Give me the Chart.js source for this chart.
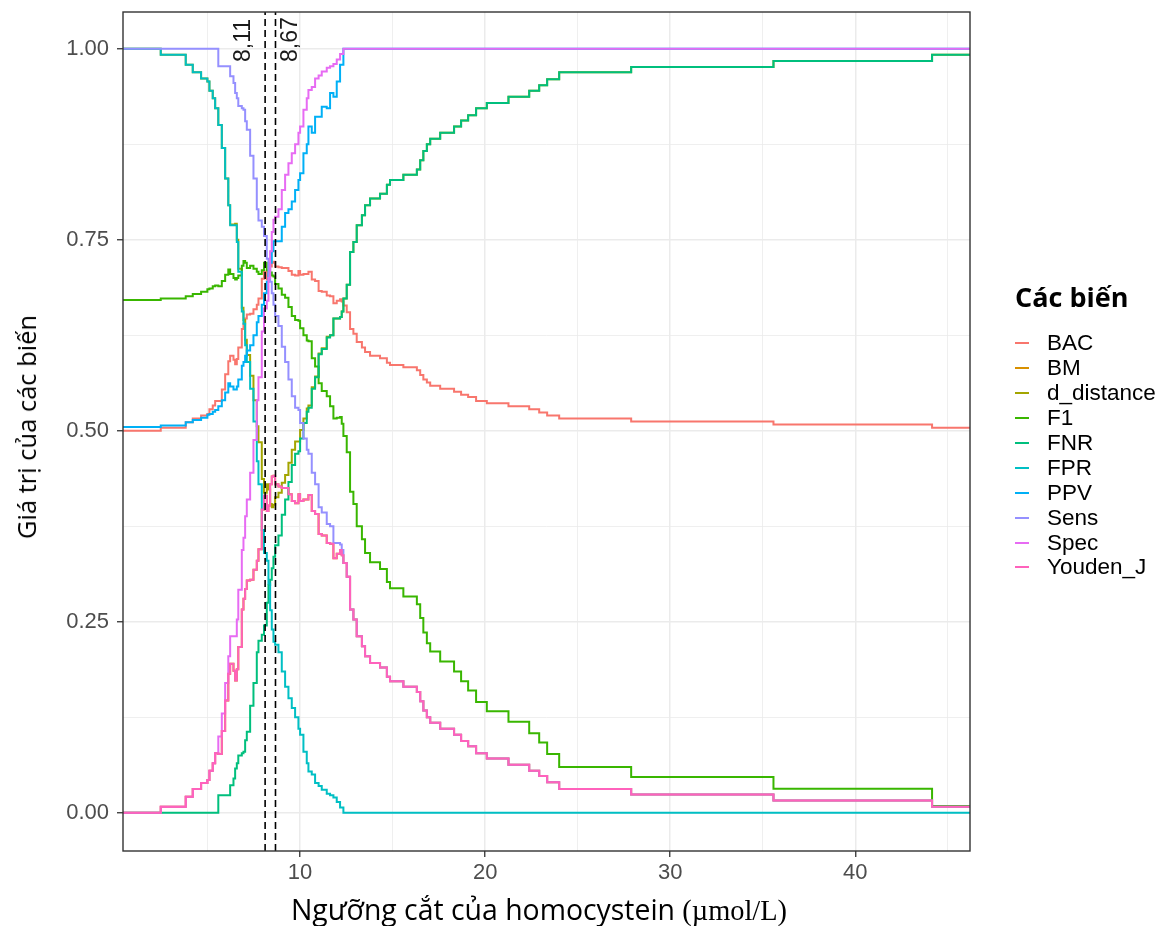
<!DOCTYPE html>
<html>
<head>
<meta charset="utf-8">
<title>Ngưỡng cắt của homocystein</title>
<script src="https://cdn.jsdelivr.net/npm/chart.js@4.4.0/dist/chart.umd.min.js"></script>
<style>
    body { margin: 0; background: #fff; }
    #wrap { position: relative; width: 1170px; height: 926px; }
    #ytitle {
        position: absolute; left: 26px; top: 427px;
        transform: translate(-50%, -50%) rotate(-90deg);
        white-space: nowrap; font-family: "Open Sans", sans-serif; font-size: 25.5px; color: #000;
    }
    #xtitle {
        position: absolute; left: 539px; top: 909px;
        transform: translate(-50%, -50%);
        white-space: nowrap; font-family: "Open Sans", sans-serif; font-size: 28.4px; color: #000;
    }
    #xtitle .unit { font-family: "Liberation Serif", "Times New Roman", serif; }
    #legend-title {
        position: absolute; left: 1015px; top: 279px; line-height: 36px;
        font-family: "Open Sans", sans-serif; font-weight: bold; font-size: 27px; color: #000;
    }
    #legend { position: absolute; left: 1015px; top: 331px; }
    .item {
        display: flex; align-items: center; height: 24.9px;
        font-family: "Liberation Sans", Arial, sans-serif; font-size: 22.5px; color: #000;
    }
    .item .key { width: 14px; height: 2px; margin-right: 18px; }
</style>
</head>
<body>
<div id="wrap">
    <canvas id="chart" width="1170" height="926"></canvas>
    <div id="ytitle">Giá trị của các biến</div>
    <div id="xtitle">Ngưỡng cắt của homocystein <span class="unit">(µmol/L)</span></div>
    <div id="legend-title">Các biến</div>
    <div id="legend"></div>
</div>
<script>
// thresholds (homocystein, µmol/L)
const thresholds = [0.43, 2.47, 3.82, 4.20, 4.65, 4.99, 5.10, 5.28, 5.41,
    5.58, 5.77, 5.95, 6.12,
    6.22, 6.40, 6.49, 6.58, 6.66, 6.85, 6.94, 7.03, 7.12, 7.30,
    7.48, 7.66, 7.75, 7.93, 8.05, 8.20, 8.29, 8.38, 8.47, 8.56,
    8.65, 8.83, 9.01, 9.19, 9.37, 9.55, 9.73, 9.91, 10.00, 10.18,
    10.36, 10.45, 10.63, 10.81, 11.00, 11.17, 11.44, 11.62, 11.80, 11.98,
    12.16, 12.25,
    12.34, 12.52, 12.70, 12.88, 13.06, 13.34, 13.51, 13.78, 14.32, 14.69,
    14.86, 15.58, 16.31, 16.49, 16.66, 16.85, 17.03, 17.57, 18.32, 18.70,
    19.08, 19.51, 20.09, 21.26, 22.38, 22.92, 23.35, 24.00, 27.89, 35.58,
    44.15, 46.20];

const bac = [0.5, 0.504, 0.511, 0.516, 0.52, 0.522, 0.528, 0.533, 0.539,
    0.539, 0.554, 0.574, 0.591,
    0.598, 0.593, 0.587, 0.594, 0.609, 0.633, 0.64, 0.647, 0.652, 0.653,
    0.659, 0.665, 0.673, 0.699, 0.708, 0.698, 0.701, 0.715, 0.72, 0.721,
    0.715, 0.714, 0.713, 0.713, 0.709, 0.704, 0.703, 0.709, 0.704, 0.705,
    0.705, 0.708, 0.698, 0.696, 0.683, 0.682, 0.677, 0.676, 0.667, 0.67,
    0.672, 0.669,
    0.664, 0.655, 0.633, 0.627, 0.616, 0.609, 0.603, 0.598, 0.595, 0.589,
    0.586, 0.583, 0.579, 0.573, 0.567, 0.563, 0.559, 0.555, 0.551, 0.547,
    0.544, 0.539, 0.536, 0.532, 0.528, 0.524, 0.52, 0.516, 0.512, 0.508,
    0.504, 0.504];

const bm = [0, 0.008, 0.021, 0.031, 0.039, 0.043, 0.055, 0.065, 0.078,
    0.077, 0.107, 0.147, 0.182,
    0.195, 0.186, 0.173, 0.188, 0.217, 0.266, 0.28, 0.293, 0.304, 0.305,
    0.318, 0.33, 0.345, 0.397, 0.415, 0.395, 0.402, 0.43, 0.44, 0.441,
    0.43, 0.427, 0.425, 0.425, 0.417, 0.408, 0.405, 0.417, 0.408, 0.41,
    0.41, 0.416, 0.395, 0.391, 0.365, 0.363, 0.353, 0.352, 0.333, 0.339,
    0.344, 0.337,
    0.327, 0.309, 0.266, 0.253, 0.231, 0.218, 0.205, 0.196, 0.19, 0.178,
    0.172, 0.165, 0.158, 0.146, 0.134, 0.125, 0.118, 0.11, 0.102, 0.094,
    0.087, 0.078, 0.071, 0.063, 0.055, 0.048, 0.04, 0.031, 0.024, 0.016,
    0.008, 0.008];

const dDistance = [1, 0.992, 0.979, 0.969, 0.961, 0.957, 0.945, 0.935, 0.922,
    0.9, 0.87, 0.83, 0.795,
    0.77, 0.77, 0.771, 0.75, 0.712, 0.661, 0.645, 0.619, 0.599, 0.572,
    0.54, 0.506, 0.485, 0.437, 0.419, 0.43, 0.423, 0.404, 0.4, 0.403,
    0.413, 0.419, 0.432, 0.442, 0.458, 0.475, 0.486, 0.486, 0.501, 0.516,
    0.529, 0.533, 0.557, 0.571, 0.601, 0.608, 0.623, 0.625, 0.647, 0.647,
    0.649, 0.656,
    0.673, 0.691, 0.734, 0.747, 0.769, 0.782, 0.795, 0.804, 0.81, 0.822,
    0.828, 0.835, 0.842, 0.854, 0.866, 0.875, 0.882, 0.89, 0.898, 0.906,
    0.913, 0.922, 0.929, 0.937, 0.945, 0.952, 0.96, 0.969, 0.976, 0.984,
    0.992, 0.992];

const f1 = [0.671, 0.673, 0.676, 0.679, 0.682, 0.685, 0.686, 0.689, 0.69,
    0.689, 0.696, 0.704, 0.711,
    0.705, 0.70, 0.698, 0.70, 0.703, 0.716, 0.722, 0.72, 0.713, 0.716,
    0.712, 0.708, 0.705, 0.71, 0.72, 0.71, 0.703, 0.707, 0.703, 0.702,
    0.692, 0.686, 0.678, 0.674, 0.662, 0.65, 0.645, 0.644, 0.634, 0.625,
    0.618, 0.617, 0.595, 0.584, 0.562, 0.552, 0.545, 0.532, 0.516, 0.517,
    0.518, 0.509,
    0.493, 0.472, 0.42, 0.404, 0.375, 0.358, 0.34, 0.328, 0.319, 0.302,
    0.294, 0.283, 0.273, 0.255, 0.236, 0.222, 0.211, 0.198, 0.185, 0.172,
    0.16, 0.145, 0.133, 0.119, 0.104, 0.092, 0.077, 0.06, 0.047, 0.0315,
    0.009, 0.009];

const fnr = [0, 0, 0, 0, 0, 0, 0, 0, 0,
    0.023, 0.023, 0.023, 0.023,
    0.036, 0.045, 0.058, 0.065, 0.075, 0.078, 0.08, 0.095, 0.106, 0.14,
    0.17, 0.21, 0.225, 0.233, 0.245, 0.275, 0.298, 0.305, 0.32, 0.335,
    0.35, 0.363, 0.39, 0.41, 0.433, 0.455, 0.47, 0.473, 0.49, 0.51,
    0.525, 0.53, 0.555, 0.57, 0.6, 0.607, 0.622, 0.625, 0.647, 0.647,
    0.649, 0.656,
    0.673, 0.691, 0.734, 0.747, 0.769, 0.782, 0.795, 0.804, 0.81, 0.822,
    0.828, 0.835, 0.842, 0.854, 0.866, 0.875, 0.882, 0.89, 0.898, 0.906,
    0.913, 0.922, 0.929, 0.937, 0.945, 0.952, 0.96, 0.969, 0.976, 0.984,
    0.992, 0.992];

const fpr = [1, 0.992, 0.979, 0.969, 0.961, 0.957, 0.945, 0.935, 0.922,
    0.9, 0.87, 0.83, 0.795,
    0.769, 0.769, 0.769, 0.747, 0.708, 0.656, 0.64, 0.612, 0.59, 0.555,
    0.512, 0.46, 0.43, 0.37, 0.34, 0.33, 0.3, 0.265, 0.24, 0.224,
    0.22, 0.21, 0.185, 0.165, 0.15, 0.137, 0.125, 0.11, 0.102, 0.08,
    0.065, 0.054, 0.05, 0.039, 0.035, 0.03, 0.025, 0.023, 0.02, 0.014,
    0.007, 0.007,
    0, 0, 0, 0, 0, 0, 0, 0, 0, 0,
    0, 0, 0, 0, 0, 0, 0, 0, 0, 0,
    0, 0, 0, 0, 0, 0, 0, 0, 0, 0,
    0, 0];

const ppv = [0.505, 0.507, 0.511, 0.514, 0.517, 0.521, 0.522, 0.525, 0.527,
    0.532, 0.54, 0.55, 0.562,
    0.558, 0.554, 0.554, 0.558, 0.567, 0.585, 0.59, 0.598, 0.605, 0.612,
    0.625, 0.642, 0.65, 0.665, 0.68, 0.695, 0.705, 0.72, 0.735, 0.748,
    0.748, 0.748, 0.767, 0.785, 0.79, 0.8, 0.815, 0.828, 0.837, 0.863,
    0.875, 0.898, 0.89, 0.911, 0.911, 0.924, 0.922, 0.942, 0.937, 0.957,
    0.979, 0.979,
    1, 1, 1, 1, 1, 1, 1, 1, 1, 1,
    1, 1, 1, 1, 1, 1, 1, 1, 1, 1,
    1, 1, 1, 1, 1, 1, 1, 1, 1, 1,
    1, 1];

const sens = [1, 1, 1, 1, 1, 1, 1, 1, 1,
    0.977, 0.977, 0.977, 0.977,
    0.964, 0.955, 0.942, 0.935, 0.925, 0.922, 0.92, 0.905, 0.894, 0.86,
    0.83, 0.79, 0.775, 0.767, 0.755, 0.725, 0.702, 0.695, 0.68, 0.665,
    0.65, 0.637, 0.61, 0.59, 0.567, 0.545, 0.53, 0.527, 0.51, 0.49,
    0.475, 0.47, 0.445, 0.43, 0.40, 0.393, 0.378, 0.375, 0.353, 0.353,
    0.351, 0.344,
    0.327, 0.309, 0.266, 0.253, 0.231, 0.218, 0.205, 0.196, 0.19, 0.178,
    0.172, 0.165, 0.158, 0.146, 0.134, 0.125, 0.118, 0.11, 0.102, 0.094,
    0.087, 0.078, 0.071, 0.063, 0.055, 0.048, 0.04, 0.031, 0.024, 0.016,
    0.008, 0.008];

const spec = [0, 0.008, 0.021, 0.031, 0.039, 0.043, 0.055, 0.065, 0.078,
    0.10, 0.13, 0.17, 0.205,
    0.231, 0.231, 0.231, 0.253, 0.292, 0.344, 0.36, 0.388, 0.41, 0.445,
    0.488, 0.54, 0.57, 0.63, 0.66, 0.67, 0.70, 0.735, 0.76, 0.776,
    0.78, 0.79, 0.815, 0.835, 0.85, 0.863, 0.875, 0.89, 0.898, 0.92,
    0.935, 0.946, 0.95, 0.961, 0.965, 0.97, 0.975, 0.977, 0.98, 0.986,
    0.993, 0.993,
    1, 1, 1, 1, 1, 1, 1, 1, 1, 1,
    1, 1, 1, 1, 1, 1, 1, 1, 1, 1,
    1, 1, 1, 1, 1, 1, 1, 1, 1, 1,
    1, 1];

const youdenJ = [0, 0.008, 0.021, 0.031, 0.039, 0.043, 0.055, 0.065, 0.078,
    0.077, 0.107, 0.147, 0.182,
    0.195, 0.186, 0.173, 0.188, 0.217, 0.266, 0.28, 0.293, 0.304, 0.305,
    0.318, 0.33, 0.345, 0.397, 0.415, 0.395, 0.402, 0.43, 0.44, 0.441,
    0.43, 0.427, 0.425, 0.425, 0.417, 0.408, 0.405, 0.417, 0.408, 0.41,
    0.41, 0.416, 0.395, 0.391, 0.365, 0.363, 0.353, 0.352, 0.333, 0.339,
    0.344, 0.337,
    0.327, 0.309, 0.266, 0.253, 0.231, 0.218, 0.205, 0.196, 0.19, 0.178,
    0.172, 0.165, 0.158, 0.146, 0.134, 0.125, 0.118, 0.11, 0.102, 0.094,
    0.087, 0.078, 0.071, 0.063, 0.055, 0.048, 0.04, 0.031, 0.024, 0.016,
    0.008, 0.008];

const seriesNames = ['BAC', 'BM', 'd_distance', 'F1', 'FNR', 'FPR', 'PPV', 'Sens', 'Spec', 'Youden_J'];
const seriesValues = [bac, bm, dDistance, f1, fnr, fpr, ppv, sens, spec, youdenJ];
const seriesColors = ['#F8766D', '#D89000', '#A3A500', '#39B600', '#00BF7D',
                      '#00BFC4', '#00B0F6', '#9590FF', '#E76BF3', '#FF62BC'];

// optimal cut-offs (dashed lines)
const cutValues = [8.11, 8.67];
const cutLabels = ['8,11', '8,67'];

const xTicks = [5, 10, 15, 20, 25, 30, 35, 40, 45];
const yTicks = [0, 0.125, 0.25, 0.375, 0.5, 0.625, 0.75, 0.875, 1];

const isMajorX = v => v % 10 === 0;
const isMajorY = v => Math.abs(v * 4 - Math.round(v * 4)) < 1e-9;

const datasets = seriesNames.map((name, i) => ({
    label: name,
    data: thresholds.map((t, j) => ({ x: t, y: seriesValues[i][j] })),
    borderColor: seriesColors[i],
    borderWidth: 2,
    stepped: true,
    pointRadius: 0,
    fill: false,
    order: seriesNames.length - i
}));

cutValues.forEach(v => {
    datasets.push({
        label: 'cut ' + v,
        data: [{ x: v, y: -0.05 }, { x: v, y: 1.05 }],
        borderColor: '#000',
        borderWidth: 1.6,
        borderDash: [7, 4],
        pointRadius: 0,
        fill: false,
        order: -1
    });
});

// panel border + rotated cut-off labels
const panelPlugin = {
    id: 'panel',
    afterDatasetsDraw(chart) {
        const ctx = chart.ctx;
        const area = chart.chartArea;
        const x = chart.scales.x;
        const shift = [-21, 15];
        ctx.save();
        ctx.font = '23px "Liberation Sans", Arial, sans-serif';
        ctx.fillStyle = '#1a1a1a';
        ctx.textAlign = 'left';
        ctx.textBaseline = 'middle';
        cutValues.forEach((v, i) => {
            ctx.save();
            ctx.translate(x.getPixelForValue(v) + shift[i], area.top + 50);
            ctx.rotate(-Math.PI / 2);
            ctx.fillText(cutLabels[i], 0, 0);
            ctx.restore();
        });
        ctx.restore();
    },
    afterDraw(chart) {
        const ctx = chart.ctx;
        const a = chart.chartArea;
        ctx.save();
        ctx.strokeStyle = '#333333';
        ctx.lineWidth = 1.4;
        ctx.strokeRect(a.left, a.top, a.right - a.left, a.bottom - a.top);
        ctx.restore();
    }
};

new Chart(document.getElementById('chart'), {
    type: 'line',
    data: { datasets: datasets },
    options: {
        responsive: false,
        animation: false,
        devicePixelRatio: 1,
        events: [],
        layout: { padding: { left: 0, right: 200, top: 12, bottom: 0 } },
        plugins: { legend: { display: false }, tooltip: { enabled: false } },
        scales: {
            x: {
                type: 'linear',
                min: 0.43,
                max: 46.2,
                afterFit: s => { s.height = 75; s.paddingLeft = 0; s.paddingRight = 0; },
                afterBuildTicks: s => { s.ticks = xTicks.map(v => ({ value: v })); },
                border: { display: false },
                grid: {
                    color: '#ebebeb',
                    lineWidth: c => isMajorX(c.tick.value) ? 1.5 : 0.8,
                    tickLength: 6,
                    tickWidth: 1.3,
                    tickColor: c => isMajorX(c.tick.value) ? '#333333' : 'rgba(0,0,0,0)'
                },
                ticks: {
                    autoSkip: false,
                    maxRotation: 0,
                    padding: 3,
                    color: '#4d4d4d',
                    font: { family: '"Liberation Sans", Arial, sans-serif', size: 22 },
                    callback: v => isMajorX(v) ? String(v) : ''
                }
            },
            y: {
                type: 'linear',
                min: -0.05,
                max: 1.048,
                afterFit: s => { s.width = 123; s.paddingTop = 0; s.paddingBottom = 0; },
                afterBuildTicks: s => { s.ticks = yTicks.map(v => ({ value: v })); },
                border: { display: false },
                grid: {
                    color: '#ebebeb',
                    lineWidth: c => isMajorY(c.tick.value) ? 1.5 : 0.8,
                    tickLength: 6,
                    tickWidth: 1.3,
                    tickColor: c => isMajorY(c.tick.value) ? '#333333' : 'rgba(0,0,0,0)'
                },
                ticks: {
                    autoSkip: false,
                    padding: 8,
                    color: '#4d4d4d',
                    font: { family: '"Liberation Sans", Arial, sans-serif', size: 22 },
                    callback: v => isMajorY(v) ? v.toFixed(2) : ''
                }
            }
        }
    },
    plugins: [panelPlugin]
});

// legend
const legend = document.getElementById('legend');
seriesNames.forEach((name, i) => {
    const row = document.createElement('div');
    row.className = 'item';
    const key = document.createElement('span');
    key.className = 'key';
    key.style.background = seriesColors[i];
    const label = document.createElement('span');
    label.textContent = name;
    row.appendChild(key);
    row.appendChild(label);
    legend.appendChild(row);
});
</script>
</body>
</html>
